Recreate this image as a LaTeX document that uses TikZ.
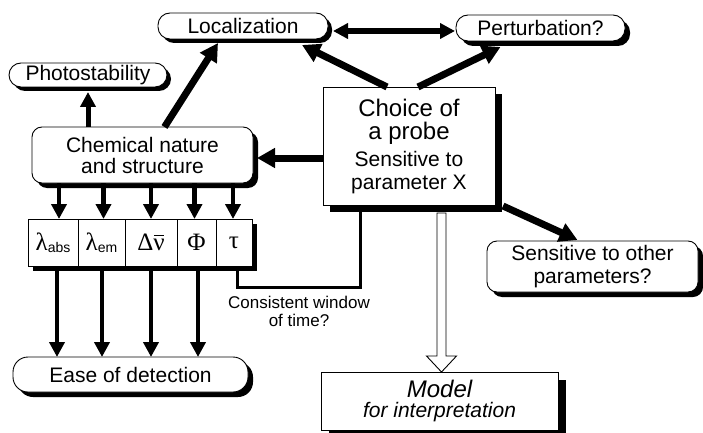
\documentclass[tikz,border=0pt]{standalone}
\usepackage{fontspec}
\setmainfont{Liberation Sans}
\newfontfamily\grk{Liberation Serif}
\usetikzlibrary{arrows.meta,shadows,calc}
\begin{document}
\begin{tikzpicture}[x=1pt,y=-1pt,
  box/.style={draw=black,line width=0.9pt,fill=white,inner sep=0pt,outer sep=0pt,align=center},
  shad/.style={drop shadow={shadow xshift=#1,shadow yshift=-#1,fill=black,opacity=1}},
  pill/.style={box,rounded corners=12pt},
  rbox/.style={box,rounded corners=10pt},
  ftxt/.style={font=\fontsize{21}{23}\selectfont},
  cell/.style={box,minimum height=47pt,font=\grk\fontsize{25}{25}\selectfont},
  arrA/.style={line width=5pt,-{Triangle[length=15pt,width=15pt]}},
  arrB/.style={line width=7pt,-{Triangle[length=18pt,width=19pt]}},
  arrC/.style={line width=5.5pt,{Triangle[length=15pt,width=15pt]}-{Triangle[length=15pt,width=15pt]}},
]
\useasboundingbox (0,0) rectangle (703,433);

% nodes
\node[pill,shad=4pt,ftxt,minimum width=170pt,minimum height=26pt] (loc) at (243,26) {Localization};
\node[pill,shad=5pt,ftxt,minimum width=169pt,minimum height=26pt] (pert) at (540.5,28) {Perturbation?};
\node[pill,shad=4pt,ftxt,minimum width=158pt,minimum height=24pt] (photo) at (88,75) {Photostability};
\node[rbox,shad=5pt,font=\fontsize{21}{21}\selectfont,minimum width=221pt,minimum height=56pt] (chem) at (142.5,155)
  {Chemical nature\\and structure};
\node[box,shad=7pt,font=\fontsize{24}{23}\selectfont,minimum width=172pt,minimum height=118pt] (choice) at (409,146)
  {Choice of\\a probe\\[4pt]\fontsize{21}{23}\selectfont Sensitive to\\\fontsize{21}{23}\selectfont parameter X};
\node[rbox,shad=5pt,ftxt,minimum width=211pt,minimum height=51pt] (sens) at (592.5,266.5)
  {Sensitive to other\\parameters?};
\node[box,shad=8pt,font=\itshape\fontsize{24}{20}\selectfont,minimum width=237pt,minimum height=58pt] (model) at (439.5,401)
  {Model\\\fontsize{21}{21}\selectfont for interpretation};
\node[pill,rounded corners=15pt,shad=5pt,ftxt,minimum width=235pt,minimum height=35pt] (ease) at (130.5,374.5) {Ease of detection};

% parameter cells
\fill[black] (33,224) rectangle (257,271);
\node[cell,minimum width=50pt] (c1) at (53,242.5) {λ\raisebox{-2pt}{\rmfamily\fontsize{14}{14}\selectfont abs}};
\node[cell,minimum width=47pt] (c2) at (101.5,242.5) {λ\raisebox{-2pt}{\rmfamily\fontsize{14}{14}\selectfont em}};
\node[cell,minimum width=52pt] (c3) at (151,242.5) {Δ\ooalign{ν\cr\hidewidth\raisebox{0.6em}{\rule{0.42em}{0.05em}}\hidewidth\cr}};
\node[cell,minimum width=39pt] (c4) at (196.5,242.5) {Φ};
\node[cell,minimum width=36pt] (c5) at (234,242.5) {τ};

% label
\node[align=center,font=\fontsize{17}{18}\selectfont,inner sep=0pt] (lbl) at (299,311) {Consistent window\\of time?};

% arrows
\draw[arrA] (photo.south |- chem.north) -- ($(photo.south)+(0,5)$);
\draw[arrB] ($(chem.north)+(22,0)$) -- ($(loc.south)+(-25,4)$);
\draw[arrB] ($(choice.north)+(-22,0)$) -- ($(loc.south east)+(-26,6)$);
\draw[arrB] ($(choice.north)+(9,0)$) -- ($(pert.south)+(-40,6)$);
\draw[arrC] ($(loc.east)+(5,5)$) -- ($(pert.west)+(-1,3)$);
\draw[arrB] ($(choice.west)+(0,12)$) -- ($(chem.east)+(4,3)$);
\draw[arrB] ($(choice.south east)+(8,1)$) -- ($(sens.north)+(-15,-1)$);

\foreach \c/\d in {c1/6,c2/2,c3/0,c4/-2,c5/-1}{
  \draw[arrA,line width=4.5pt] ($(\c.north |- chem.south)+(\d,0)$) -- ($(\c.north)+(\d,0)$);
}
\foreach \c/\d in {c1/4,c2/0.5,c3/0,c4/1.5}{
  \draw[arrA,line width=4.5pt] ($(\c.south)+(\d,5)$) -- ($(\c.south |- ease.north)+(\d,0)$);
}

% tau line
\draw[line width=3pt] ($(c5.south)+(3,0)$) |- ($(choice.south west)+(37,82)$) -- ($(choice.south west)+(37,0)$);

% hollow arrow
\coordinate (ha) at ($(model.north)+(2,0)$);
\draw[line width=0.9pt,fill=white,line join=miter] (ha) -- ++(-15,-16) -- ++(10.5,0) -- ++(0,-143) -- ++(9,0) -- ++(0,143) -- ++(10.5,0) -- cycle;
\end{tikzpicture}
\end{document}
